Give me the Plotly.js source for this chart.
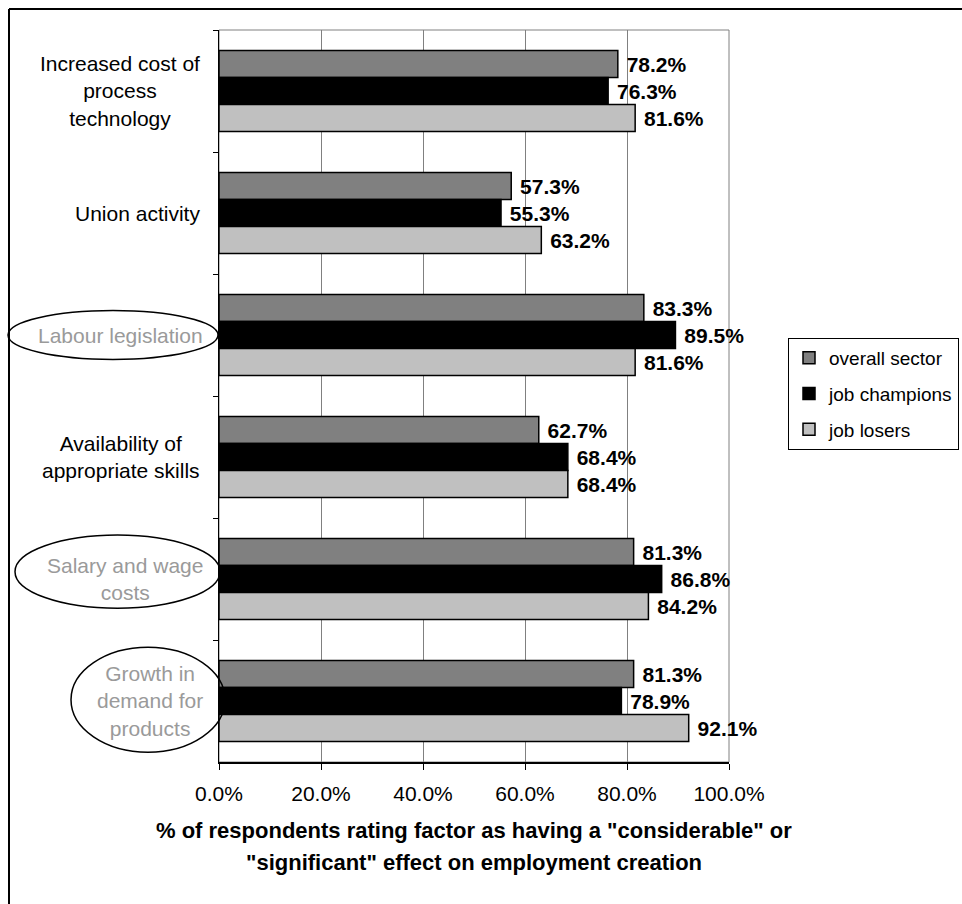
<!DOCTYPE html>
<html>
<head>
<meta charset="utf-8">
<script src="https://cdn.plot.ly/plotly-3.0.1.min.js"></script>
<style>
  html, body { margin: 0; padding: 0; background: #fff; }
  #chart { width: 962px; height: 904px; }
</style>
</head>
<body>
<div id="chart"></div>
<script>
// Factors affecting employment creation, top to bottom
const categories = [
  'Increased cost of process technology',
  'Union activity',
  'Labour legislation',
  'Availability of appropriate skills',
  'Salary and wage costs',
  'Growth in demand for products'
];
// Category labels as drawn (line breaks)
const categoryLabels = [
  'Increased cost of<br>process<br>technology',
  'Union activity',
  'Labour legislation',
  'Availability of<br>appropriate skills',
  'Salary and wage<br>costs',
  'Growth in<br>demand for<br>products'
];
// Factors that are ringed on the chart
const circledFactors = ['Labour legislation', 'Salary and wage costs', 'Growth in demand for products'];

const seriesNames = ['overall sector', 'job champions', 'job losers'];
const overallSector = [78.2, 57.3, 83.3, 62.7, 81.3, 81.3];
const jobChampions  = [76.3, 55.3, 89.5, 68.4, 86.8, 78.9];
const jobLosers     = [81.6, 63.2, 81.6, 68.4, 84.2, 92.1];

const xTicks = [0, 20, 40, 60, 80, 100];
const xTickLabels = ['0.0%', '20.0%', '40.0%', '60.0%', '80.0%', '100.0%'];
const xTitleLines = [
  '% of respondents rating factor as having a "considerable" or',
  '"significant" effect on employment creation'
];

// ---- layout constants ----
const FONT = 'Liberation Sans, Arial, Helvetica, sans-serif';
const W = 962, H = 904;
const M = { l: 219, r: 233, t: 30, b: 142, autoexpand: false };
const PW = W - M.l - M.r;   // plot width in px
const PH = H - M.t - M.b;   // plot height in px
const px2paperX = px => (px - M.l) / PW;
const px2paperY = py => (H - M.b - py) / PH;

const colors = ['#808080', '#000000', '#c0c0c0'];
const seriesValues = [overallSector, jobChampions, jobLosers];

const traces = seriesValues.map((vals, i) => ({
  type: 'bar',
  orientation: 'h',
  name: seriesNames[i],
  legendgroup: 'g' + i,
  y: categories,
  x: vals,
  marker: { color: colors[i], line: { color: '#000', width: 1.5 } },
  // leading no-break space keeps the value clear of the bar end
  text: vals.map(v => '\u00a0' + v.toFixed(1) + '%'),
  textposition: 'outside',
  textfont: { family: FONT, size: 21, color: '#000', weight: 'bold' },
  constraintext: 'none',
  cliponaxis: false,
  hoverinfo: 'skip'
}));

const annotations = [];
// category labels: block right-aligned next to the axis, lines centred
categoryLabels.forEach((lab, i) => {
  const dim = circledFactors.includes(categories[i]);
  annotations.push({
    xref: 'paper', yref: 'y',
    x: 0, y: categories[i],
    xanchor: 'right', yanchor: 'middle',
    xshift: dim ? -14 : -17,
    align: 'center',
    text: lab,
    showarrow: false,
    font: { family: FONT, size: 21, color: dim ? '#9a9a9a' : '#000' }
  });
});
// x-axis title, two lines
xTitleLines.forEach((t, j) => {
  annotations.push({
    xref: 'paper', yref: 'paper',
    x: 0.5, y: 0,
    xanchor: 'center', yanchor: 'middle',
    yshift: -68 - 32 * j,
    text: t,
    showarrow: false,
    font: { family: FONT, size: 22, color: '#000', weight: 'bold' }
  });
});

// ellipses ringing the highlighted factors (x in px, y as half-height in category units)
const ringSpecs = [
  { cat: 'Labour legislation',            x0: 8,  x1: 218, dy: 0.0,   h: 0.20 },
  { cat: 'Salary and wage costs',         x0: 15, x1: 220, dy: -0.06, h: 0.30 },
  { cat: 'Growth in demand for products', x0: 71, x1: 225, dy: -0.01, h: 0.43 }
];
const shapes = [];
// outer chart frame (left and top edges)
shapes.push({ type: 'line', xref: 'paper', yref: 'paper', layer: 'above',
  x0: px2paperX(9), x1: px2paperX(W + 5), y0: px2paperY(9), y1: px2paperY(9),
  line: { color: '#000', width: 2 } });
shapes.push({ type: 'line', xref: 'paper', yref: 'paper', layer: 'above',
  x0: px2paperX(9), x1: px2paperX(9), y0: px2paperY(9), y1: px2paperY(H + 5),
  line: { color: '#000', width: 2 } });
// plot area border (grey top/right)
shapes.push({ type: 'rect', xref: 'paper', yref: 'paper', layer: 'below',
  x0: 0, x1: 1, y0: 0, y1: 1, line: { color: '#808080', width: 1 } });
ringSpecs.forEach(r => {
  const idx = categories.indexOf(r.cat) + r.dy;
  shapes.push({
    type: 'circle', xref: 'paper', yref: 'y', layer: 'above',
    x0: px2paperX(r.x0), x1: px2paperX(r.x1),
    y0: idx - r.h, y1: idx + r.h,
    line: { color: '#000', width: 1.5 }
  });
});

const layout = {
  width: W, height: H,
  margin: M,
  paper_bgcolor: '#fff', plot_bgcolor: '#fff',
  font: { family: FONT, size: 21, color: '#000' },
  barmode: 'group',
  bargap: 0.336,
  bargroupgap: 0,
  showlegend: true,
  legend: {
    x: px2paperX(788), y: px2paperY(338),
    xanchor: 'left', yanchor: 'top',
    bordercolor: '#000', borderwidth: 1,
    bgcolor: '#fff',
    font: { family: FONT, size: 19, color: '#000' },
    traceorder: 'grouped',
    tracegroupgap: 8,
    itemwidth: 30
  },
  xaxis: {
    range: [0, 100],
    tickmode: 'array',
    tickvals: xTicks,
    ticktext: xTickLabels,
    ticks: 'outside', ticklen: 6, tickcolor: '#000', tickwidth: 1,
    ticklabelstandoff: 6,
    showgrid: true, gridcolor: '#808080', gridwidth: 1,
    zeroline: false,
    showline: true, linecolor: '#000', linewidth: 1.5,
    tickfont: { family: FONT, size: 21, color: '#000' },
    fixedrange: true
  },
  yaxis: {
    type: 'category',
    categoryarray: categories,
    autorange: 'reversed',
    showticklabels: false,
    ticks: 'outside', ticklen: 5, tickcolor: '#000', tickwidth: 1,
    tickson: 'boundaries',
    showgrid: false, zeroline: false,
    showline: true, linecolor: '#000', linewidth: 1.5,
    fixedrange: true
  },
  annotations: annotations,
  shapes: shapes,
  hovermode: false
};

Plotly.newPlot('chart', traces, layout, { staticPlot: true, displayModeBar: false });
</script>
</body>
</html>
